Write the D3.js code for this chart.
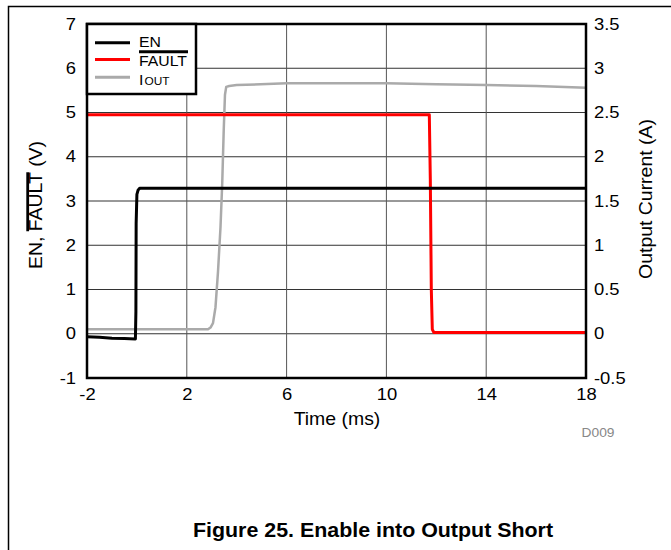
<!DOCTYPE html>
<html><head><meta charset="utf-8">
<script src="https://cdn.jsdelivr.net/npm/d3@7/dist/d3.min.js"></script>
<style>body{margin:0;background:#fff}svg{display:block}text{font-family:"Liberation Sans",Arial,sans-serif}</style>
</head><body>
<script>
const xTicks = [-2, 2, 6, 10, 14, 18];
const yLeftTicks = [-1, 0, 1, 2, 3, 4, 5, 6, 7];
const yRightTicks = [-0.5, 0, 0.5, 1, 1.5, 2, 2.5, 3, 3.5];
const xGrid = [2, 6, 10, 14];

const enTime = [-2, -1.5, -1, -0.5, -0.06, -0.04, -0.03, 0.0, 0.05, 0.12, 1, 6, 12, 18];
const enVolt = [-0.07, -0.08, -0.10, -0.11, -0.12, 0.5, 2.5, 3.15, 3.25, 3.29, 3.29, 3.29, 3.29, 3.29];

const faultTime = [-2, 4, 8, 11.72, 11.76, 11.8, 11.84, 11.9, 14, 18];
const faultVolt = [4.95, 4.95, 4.95, 4.95, 3.5, 1.0, 0.1, 0.03, 0.03, 0.03];

const ioutTime = [-2, 0, 2, 2.85, 2.95, 3.05, 3.15, 3.25, 3.35, 3.42, 3.48, 3.53, 3.58, 3.7, 4, 6, 8, 10, 12, 14, 16, 18];
const ioutAmp  = [0.05, 0.05, 0.05, 0.05, 0.07, 0.12, 0.3, 0.7, 1.2, 1.7, 2.3, 2.7, 2.79, 2.8, 2.81, 2.83, 2.83, 2.83, 2.82, 2.81, 2.80, 2.78];

const W = 671, H = 550;
const L = 87, R = 586, T = 24, B = 378;
const FONT = '"Liberation Sans",Arial,sans-serif';

const svg = d3.select("body").append("svg").attr("width", W).attr("height", H);

// outer frame
svg.append("path").attr("d", `M8.5,${H} V6.5 H${W}`).attr("fill", "none").attr("stroke", "#000").attr("stroke-width", 1.5);

const x = d3.scaleLinear().domain([-2, 18]).range([L, R]);
const yL = d3.scaleLinear().domain([-1, 7]).range([B, T]);
const yR = d3.scaleLinear().domain([-0.5, 3.5]).range([B, T]);

// grid
svg.append("g").selectAll("line").data(yLeftTicks.slice(1, -1)).join("line")
  .attr("x1", L).attr("x2", R).attr("y1", d => yL(d)).attr("y2", d => yL(d))
  .attr("stroke", "#333").attr("stroke-width", 1);
svg.append("g").selectAll("line").data(xGrid).join("line")
  .attr("y1", T).attr("y2", B).attr("x1", d => x(d)).attr("x2", d => x(d))
  .attr("stroke", "#555").attr("stroke-width", 1);

// horizontal stretch for text
function stretch(sel, sx) {
  sel.each(function () {
    const t = d3.select(this);
    const xa = +(t.attr("x") || 0);
    t.attr("x", xa / sx).attr("transform", `scale(${sx},1)`);
  });
}

// axes
const fs = 16, tsx = 1.15;
const fmt = d => String(d);
const ax = svg.append("g").attr("transform", `translate(0,${B})`)
  .call(d3.axisBottom(x).tickValues(xTicks).tickSize(0).tickPadding(11).tickFormat(fmt));
const ayl = svg.append("g").attr("transform", `translate(${L},0)`)
  .call(d3.axisLeft(yL).tickValues(yLeftTicks).tickSize(0).tickPadding(11).tickFormat(fmt));
const ayr = svg.append("g").attr("transform", `translate(${R},0)`)
  .call(d3.axisRight(yR).tickValues(yRightTicks).tickSize(0).tickPadding(8).tickFormat(fmt));
[ax, ayl, ayr].forEach(g => {
  g.select(".domain").remove();
  g.selectAll("text").attr("font-size", fs).attr("fill", "#000").style("font-family", FONT);
  stretch(g.selectAll("text"), tsx);
});

// series
const lineFn = (xs, ys, ysc) => d3.line().x((d, i) => x(xs[i])).y((d, i) => ysc(ys[i]))(xs);
svg.append("path").attr("d", lineFn(ioutTime, ioutAmp, yR)).attr("fill", "none")
  .attr("stroke", "#aaaaaa").attr("stroke-width", 2.5).attr("stroke-linejoin", "round");
svg.append("path").attr("d", lineFn(faultTime, faultVolt, yL)).attr("fill", "none")
  .attr("stroke", "#ff0000").attr("stroke-width", 3).attr("stroke-linejoin", "round");
svg.append("path").attr("d", lineFn(enTime, enVolt, yL)).attr("fill", "none")
  .attr("stroke", "#000").attr("stroke-width", 3).attr("stroke-linejoin", "round");

// plot frame
svg.append("rect").attr("x", L).attr("y", T).attr("width", R - L).attr("height", B - T)
  .attr("fill", "none").attr("stroke", "#000").attr("stroke-width", 2.5);

// legend
const lg = svg.append("g");
lg.append("rect").attr("x", L).attr("y", T).attr("width", 109).attr("height", 70)
  .attr("fill", "#fff").attr("stroke", "#000").attr("stroke-width", 2.5);
const legItems = [
  {name: "EN", color: "#000", y: 42.7, by: 46.7},
  {name: "FAULT", color: "#ff0000", y: 59.5, by: 65.5},
  {name: "I", sub: "OUT", color: "#aaaaaa", y: 77.3, by: 85}
];
legItems.forEach(it => {
  lg.append("line").attr("x1", 95).attr("x2", 130).attr("y1", it.y).attr("y2", it.y)
    .attr("stroke", it.color).attr("stroke-width", 3);
  const g = lg.append("g").attr("transform", `translate(139,${it.by}) scale(1.13,1)`);
  const t = g.append("text").attr("x", 0).attr("y", 0).attr("font-size", 14).attr("fill", "#000");
  t.append("tspan").text(it.name);
  if (it.sub) t.append("tspan").attr("font-size", 10.5).attr("dx", 1).text(it.sub);
});
// overline of FAULT
lg.append("line").attr("x1", 139).attr("x2", 188).attr("y1", 51.7).attr("y2", 51.7).attr("stroke", "#000").attr("stroke-width", 3);

// axis titles
const afs = 18, asx = 1.08;
svg.append("g").attr("transform", `translate(337,425) scale(${asx},1)`)
  .append("text").attr("text-anchor", "middle").attr("font-size", afs).text("Time (ms)");

const lgp = svg.append("g").attr("transform", `translate(41.5,205) rotate(-90) scale(${asx},1)`);
const lt = lgp.append("text").attr("text-anchor", "middle").attr("font-size", afs);
lt.append("tspan").text("EN, ");
lt.append("tspan").text("FAULT");
lt.append("tspan").text(" (V)");
{
  const node = lt.node();
  const total = node.getComputedTextLength();
  const pre = node.getSubStringLength(0, 4);
  const fl = node.getSubStringLength(4, 5);
  const x0 = -total / 2 + pre;
  lgp.append("line").attr("x1", x0).attr("x2", x0 + fl).attr("y1", -13.8).attr("y2", -13.8)
    .attr("stroke", "#000").attr("stroke-width", 2.8);
}

svg.append("g").attr("transform", `translate(652,199) rotate(-90) scale(${asx},1)`)
  .append("text").attr("text-anchor", "middle").attr("font-size", afs).text("Output Current (A)");

svg.append("g").attr("transform", `translate(598,437) scale(1.15,1)`)
  .append("text").attr("text-anchor", "middle").attr("font-size", 12).attr("fill", "#888").text("D009");

svg.append("g").attr("transform", `translate(373,537) scale(1.07,1)`)
  .append("text").attr("text-anchor", "middle").attr("font-size", 20).attr("font-weight", "bold")
  .text("Figure 25. Enable into Output Short");
</script>
</body></html>
